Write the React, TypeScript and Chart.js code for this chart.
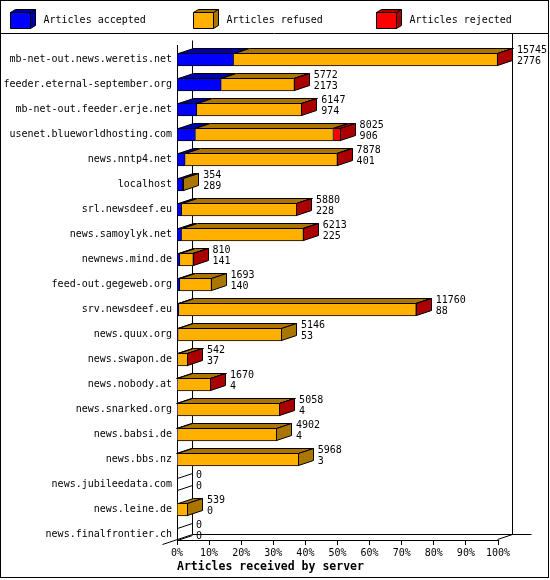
import React, { useEffect, useRef } from "react";
import { Chart, registerables } from "chart.js";

Chart.register(...registerables);

// ---- data ----
const servers = [
  "mb-net-out.news.weretis.net",
  "feeder.eternal-september.org",
  "mb-net-out.feeder.erje.net",
  "usenet.blueworldhosting.com",
  "news.nntp4.net",
  "localhost",
  "srl.newsdeef.eu",
  "news.samoylyk.net",
  "newnews.mind.de",
  "feed-out.gegeweb.org",
  "srv.newsdeef.eu",
  "news.quux.org",
  "news.swapon.de",
  "news.nobody.at",
  "news.snarked.org",
  "news.babsi.de",
  "news.bbs.nz",
  "news.jubileedata.com",
  "news.leine.de",
  "news.finalfrontier.ch",
];
const totals = [15745, 5772, 6147, 8025, 7878, 354, 5880, 6213, 810, 1693, 11760, 5146, 542, 1670, 5058, 4902, 5968, 0, 539, 0];
const accepted = [2776, 2173, 974, 906, 401, 289, 228, 225, 141, 140, 88, 53, 37, 4, 4, 4, 3, 0, 0, 0];
const refused = [12949, 3587, 5158, 6769, 7467, 65, 5644, 5978, 663, 1553, 11647, 5093, 502, 1664, 5042, 4898, 5965, 0, 539, 0];
const rejected = [20, 12, 15, 350, 10, 0, 8, 10, 6, 0, 25, 0, 3, 2, 12, 0, 0, 0, 0, 0];

const seriesLabels = ["Articles accepted", "Articles refused", "Articles rejected"];
const seriesColors = ["#0000FF", "#FFB000", "#FF0000"];
const xTickLabels = ["0%", "10%", "20%", "30%", "40%", "50%", "60%", "70%", "80%", "90%", "100%"];
const xTitle = "Articles received by server";

// ---- style constants ----
const DX = 15;
const DY = 5;
const SEP_Y = 33.5;
const MONO = '"DejaVu Sans Mono", "Liberation Mono", monospace';

function darken(hex: string): string {
  const n = parseInt(hex.slice(1), 16);
  const r = Math.round(((n >> 16) & 255) * 2 / 3);
  const g = Math.round(((n >> 8) & 255) * 2 / 3);
  const b = Math.round((n & 255) * 2 / 3);
  return `rgb(${r},${g},${b})`;
}

function poly(ctx: CanvasRenderingContext2D, pts: number[][], fill: string) {
  ctx.beginPath();
  ctx.moveTo(pts[0][0], pts[0][1]);
  for (let k = 1; k < pts.length; k++) ctx.lineTo(pts[k][0], pts[k][1]);
  ctx.closePath();
  ctx.fillStyle = fill;
  ctx.fill();
  ctx.stroke();
}

function line(ctx: CanvasRenderingContext2D, x1: number, y1: number, x2: number, y2: number) {
  ctx.beginPath();
  ctx.moveTo(x1, y1);
  ctx.lineTo(x2, y2);
  ctx.stroke();
}

const depthPlugin = {
  id: "depth3d",
  beforeDatasetsDraw(chart: any) {
    const { ctx, chartArea: a } = chart;
    const L = Math.round(a.left) + 0.5;
    const R = Math.round(a.right) - 0.5;
    const T = Math.round(a.top) + 0.5;
    const B = Math.round(a.bottom) - 0.5;
    ctx.save();
    ctx.strokeStyle = "#000";
    ctx.lineWidth = 1;
    line(ctx, L + DX, T - DY, L + DX, B - DY);
    line(ctx, L + DX, B - DY, R + DX + 19, B - DY);
    line(ctx, R + DX, SEP_Y, R + DX, B - DY);
    line(ctx, L - DX, B + DY, L + DX, B - DY);
    line(ctx, R, B, R + DX, B - DY);
    ctx.restore();
  },
  afterDatasetsDraw(chart: any) {
    const { ctx } = chart;
    const series = [accepted, refused, rejected];
    const metas = series.map((_, d) => chart.getDatasetMeta(d));
    const xScale = chart.scales.x;
    ctx.save();
    ctx.strokeStyle = "#000";
    ctx.lineWidth = 1;
    for (let i = 0; i < servers.length; i++) {
      let last = -1;
      let yT = 0;
      let yB = 0;
      let yC = 0;
      for (let d = 0; d < series.length; d++) {
        const el = metas[d].data[i];
        const p = el.getProps(["x", "y", "base", "height"], true);
        yC = p.y;
        yT = Math.round(p.y - p.height / 2) + 0.5;
        yB = Math.round(p.y + p.height / 2) - 0.5;
        if (series[d][i] > 0) {
          const x0 = Math.round(p.base) + 0.5;
          const x1 = Math.round(p.x) - 0.5;
          poly(ctx, [[x0, yT], [x1, yT], [x1 + DX, yT - DY], [x0 + DX, yT - DY]], darken(seriesColors[d]));
          last = d;
        }
      }
      if (last >= 0) {
        const p = metas[last].data[i].getProps(["x", "y", "height"], true);
        const x1 = Math.round(p.x) - 0.5;
        poly(ctx, [[x1, yT], [x1 + DX, yT - DY], [x1 + DX, yB - DY], [x1, yB]], darken(seriesColors[last]));
      } else {
        const x0 = Math.round(chart.chartArea.left) + 0.5;
        line(ctx, x0, yT, x0 + DX, yT - DY);
        line(ctx, x0, yB, x0 + DX, yB - DY);
      }
      // value labels: total and accepted
      const xe = xScale.getPixelForValue(totals[i]) + DX + 4;
      ctx.fillStyle = "#000";
      ctx.font = `10px ${MONO}`;
      ctx.textAlign = "left";
      ctx.textBaseline = "middle";
      ctx.fillText(String(totals[i]), xe, yC - 9.5);
      ctx.fillText(String(accepted[i]), xe, yC + 1.5);
    }
    ctx.restore();
  },
  afterDraw(chart: any) {
    const { ctx } = chart;
    ctx.save();
    ctx.strokeStyle = "#000";
    ctx.lineWidth = 1;
    // legend
    ctx.font = `10px ${MONO}`;
    ctx.textAlign = "left";
    ctx.textBaseline = "middle";
    chart.data.datasets.forEach((ds: any, k: number) => {
      const x = 10.5 + 183 * k;
      const y = 12.5;
      const w = 20;
      const h = 16;
      const dx = 5;
      const dy = 3;
      const dark = darken(seriesColors[k]);
      poly(ctx, [[x, y], [x + w, y], [x + w, y + h], [x, y + h]], seriesColors[k]);
      poly(ctx, [[x, y], [x + w, y], [x + w + dx, y - dy], [x + dx, y - dy]], dark);
      poly(ctx, [[x + w, y], [x + w + dx, y - dy], [x + w + dx, y + h - dy], [x + w, y + h]], dark);
      ctx.fillStyle = "#000";
      ctx.fillText(ds.label, x + 33, 20.5);
    });
    // separator & outer border
    line(ctx, 0, SEP_Y, 549, SEP_Y);
    ctx.strokeRect(0.5, 0.5, 548, 577);
    ctx.restore();
  },
};

export default function App() {
  const canvasRef = useRef<HTMLCanvasElement | null>(null);

  useEffect(() => {
    const canvas = canvasRef.current;
    if (!canvas) return;
    const maxTotal = Math.max(...totals);
    const series = [accepted, refused, rejected];
    const chart = new Chart(canvas, {
      type: "bar",
      data: {
        datasets: series.map((vals, d) => ({
          label: seriesLabels[d],
          data: vals.map((v, i) => ({ x: v, y: i })),
          backgroundColor: seriesColors[d],
          borderColor: "#000",
          borderWidth: 1,
          barThickness: 13,
        })),
      },
      options: {
        indexAxis: "y",
        responsive: false,
        animation: false,
        layout: { padding: { top: 45, right: 52, bottom: 0, left: 0 } },
        plugins: {
          legend: { display: false },
          tooltip: { enabled: false },
          title: { display: false },
        },
        scales: {
          x: {
            type: "linear",
            stacked: true,
            bounds: "data",
            offset: false,
            min: 0,
            max: maxTotal,
            afterBuildTicks: (s: any) => {
              s.ticks = xTickLabels.map((_, k) => ({ value: (maxTotal * k) / 10 }));
            },
            afterFit: (s: any) => {
              s.height = 40;
            },
            ticks: {
              autoSkip: false,
              maxRotation: 0,
              padding: 2,
              color: "#000",
              font: { family: MONO, size: 10 },
              callback: (_v: any, idx: number) => xTickLabels[idx],
            },
            grid: {
              display: true,
              drawOnChartArea: false,
              drawTicks: true,
              tickLength: 5,
              color: "#000",
              tickColor: "#000",
              lineWidth: 1,
            },
            border: { display: true, color: "#000", width: 1 },
            title: {
              display: true,
              text: xTitle,
              align: "start",
              color: "#000",
              font: { family: MONO, size: 11.5, weight: "bold" },
              padding: { top: 0, bottom: 6 },
            },
          },
          y: {
            type: "linear",
            stacked: true,
            reverse: true,
            bounds: "data",
            offset: false,
            min: -0.58,
            max: 19.22,
            afterBuildTicks: (s: any) => {
              s.ticks = servers.map((_, i) => ({ value: i }));
            },
            afterFit: (s: any) => {
              s.width = 177;
            },
            ticks: {
              autoSkip: false,
              padding: 5,
              color: "#000",
              font: { family: MONO, size: 10 },
              callback: (v: any) => servers[v as number] ?? "",
            },
            grid: { display: true, offset: false, drawOnChartArea: false, drawTicks: false },
            border: { display: true, color: "#000", width: 1 },
          },
        },
      },
      plugins: [depthPlugin],
    } as any);
    return () => chart.destroy();
  }, []);

  return (
    <div style={{ position: "absolute", left: 0, top: 0, width: 550, height: 580, background: "#fff" }}>
      <canvas ref={canvasRef} width={550} height={580} style={{ display: "block" }} />
    </div>
  );
}
